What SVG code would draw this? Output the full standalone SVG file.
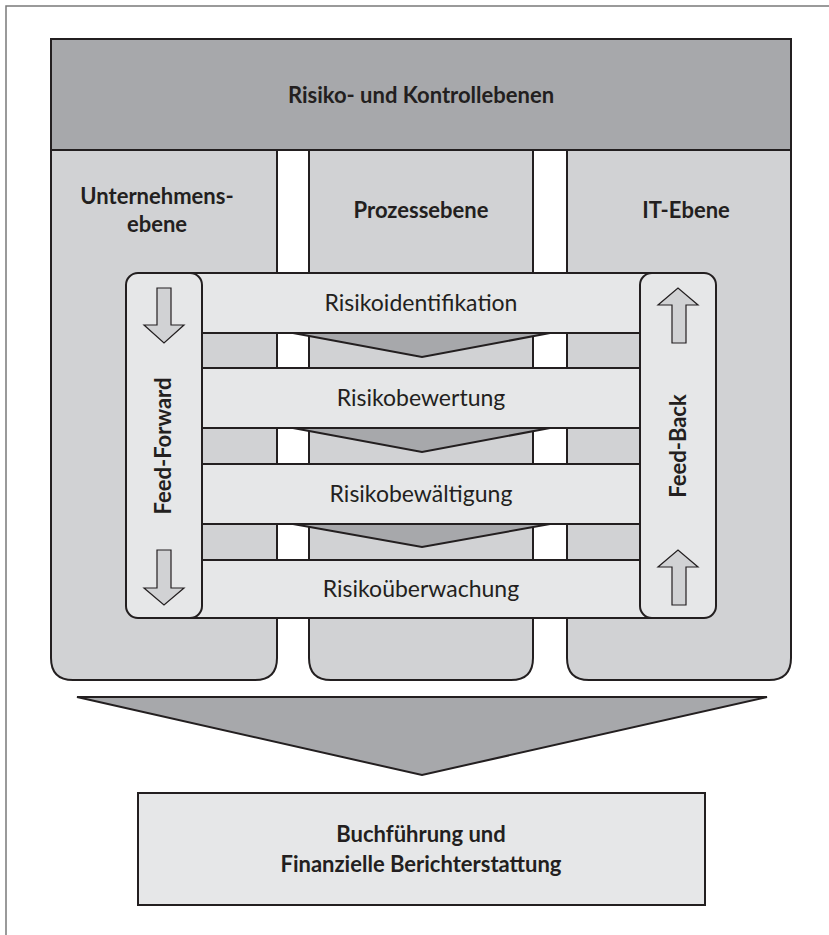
<svg xmlns="http://www.w3.org/2000/svg" width="829" height="935" viewBox="0 0 829 935">
<style>
.ln{stroke:#231f20;stroke-width:2;}
.b{font-family:Lato,"Open Sans","Liberation Sans",sans-serif;font-weight:bold;fill:#231f20;text-anchor:middle;font-size:22px;}
.r{font-family:Lato,"Open Sans","Liberation Sans",sans-serif;fill:#231f20;text-anchor:middle;font-size:23px;}
.col{fill:#d1d2d4;}
.band{fill:#e6e7e8;}
.dark{fill:#a7a8ab;}
.arr{fill:#d1d2d4;stroke:#231f20;stroke-width:1.2;}
</style>
<rect x="0" y="0" width="829" height="935" fill="#fff"/>
<path d="M6,935 V6 H829" fill="none" stroke="#7a7a7a" stroke-width="1.5"/>
<g id="columns">
<g id="col-unternehmen">
<path class="col ln" d="M51,150 H277 V658 Q277,680 255,680 H73 Q51,680 51,658 Z"/>
<text class="b" x="157" y="204">Unternehmens-</text>
<text class="b" x="157" y="232">ebene</text>
</g>
<g id="col-prozess">
<path class="col ln" d="M309,150 H533 V658 Q533,680 511,680 H331 Q309,680 309,658 Z"/>
<text class="b" x="421" y="218">Prozessebene</text>
</g>
<g id="col-it">
<path class="col ln" d="M567,150 H791 V658 Q791,680 769,680 H589 Q567,680 567,658 Z"/>
<text class="b" x="686" y="218">IT-Ebene</text>
</g>
</g>
<g id="header">
<rect class="dark ln" x="51" y="39" width="740" height="111"/>
<text class="b" x="421" y="103">Risiko- und Kontrollebenen</text>
</g>
<g id="bands">
<g id="band-identifikation">
<rect class="band ln" x="140" y="273" width="560" height="60"/>
<text class="r" x="421" y="311">Risikoidentifikation</text>
</g>
<g id="band-bewertung">
<rect class="band ln" x="140" y="368" width="560" height="60"/>
<text class="r" x="421" y="406">Risikobewertung</text>
</g>
<g id="band-bewaeltigung">
<rect class="band ln" x="140" y="464" width="560" height="60"/>
<text class="r" x="421" y="502">Risikobewältigung</text>
</g>
<g id="band-ueberwachung">
<rect class="band ln" x="140" y="560" width="560" height="58"/>
<text class="r" x="421" y="597">Risikoüberwachung</text>
</g>
</g>
<g id="connectors">
<polygon class="dark ln" points="293,333 550,333 422,357"/>
<polygon class="dark ln" points="293,428 550,428 422,452"/>
<polygon class="dark ln" points="293,524 550,524 422,547"/>
<polygon class="dark ln" points="77,697 767,697 422,775"/>
</g>
<g id="feed-forward">
<rect class="band ln" x="126" y="273" width="76" height="345" rx="12"/>
<path class="arr" d="M157,288 H171 V325 H184 L164,343 L144,325 H157 Z"/>
<path class="arr" d="M157,550 H171 V588 H184 L164,605 L144,588 H157 Z"/>
<text class="b" transform="translate(171,446) rotate(-90)">Feed-Forward</text>
</g>
<g id="feed-back">
<rect class="band ln" x="640" y="273" width="76" height="345" rx="12"/>
<path class="arr" d="M672,343 H686 V305 H698 L678,288 L658,305 H672 Z"/>
<path class="arr" d="M672,605 H686 V567 H698 L678,550 L658,567 H672 Z"/>
<text class="b" transform="translate(686,446) rotate(-90)">Feed-Back</text>
</g>
<g id="buchfuehrung">
<rect class="band ln" x="138" y="793" width="567" height="112"/>
<text class="b" x="421" y="842">Buchführung und</text>
<text class="b" x="421" y="872">Finanzielle Berichterstattung</text>
</g>
</svg>
